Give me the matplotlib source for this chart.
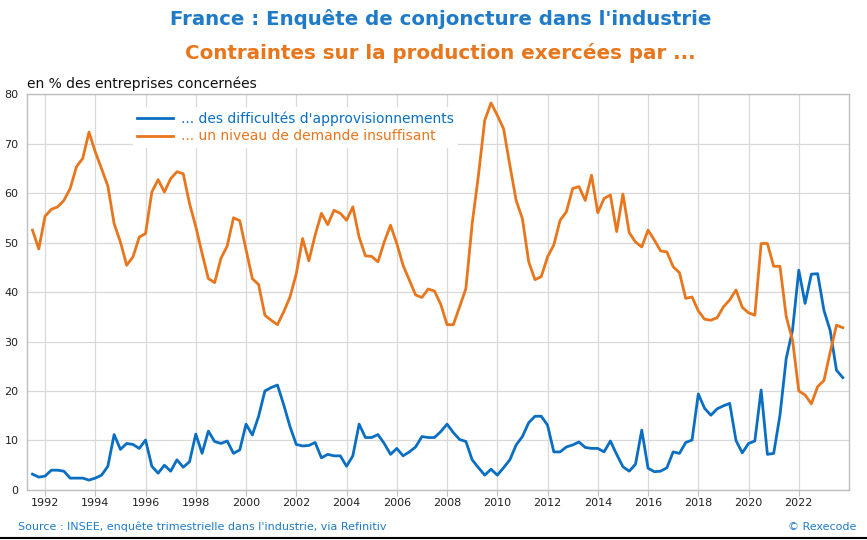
import numpy as np
import matplotlib
matplotlib.use("Agg")
import matplotlib.pyplot as plt
from matplotlib.lines import Line2D

# quarterly survey, 1991 Q3 -> 2023 Q4
quarters = 1991.5 + 0.25 * np.arange(130)

# ... des difficultés d'approvisionnements
supply = [
    3.2, 2.6,
    2.8, 4.0, 4.0, 3.8,
    2.4, 2.4, 2.4, 2.0,
    2.4, 3.0, 4.8, 11.2,
    8.2, 9.4, 9.2, 8.4,
    10.1, 4.8, 3.4, 5.0,
    3.8, 6.1, 4.6, 5.7,
    11.3, 7.4, 11.9, 9.8,
    9.4, 9.9, 7.4, 8.1,
    13.3, 11.1, 14.9, 20.0,
    20.7, 21.2, 17.2, 12.8,
    9.2, 8.9, 9.0, 9.6,
    6.5, 7.2, 6.9, 6.9,
    4.8, 6.9, 13.3, 10.6,
    10.6, 11.2, 9.4, 7.2,
    8.4, 6.9, 7.7, 8.7,
    10.8, 10.6, 10.6, 11.8,
    13.3, 11.6, 10.2, 9.8,
    6.1, 4.5, 3.0, 4.2,
    3.0, 4.5, 6.1, 9.1,
    10.8, 13.6, 14.9, 14.9,
    13.1, 7.7, 7.7, 8.7,
    9.1, 9.7, 8.6, 8.4,
    8.4, 7.7, 9.9, 7.2,
    4.7, 3.8, 5.2, 12.1,
    4.4, 3.7, 3.8, 4.5,
    7.7, 7.4, 9.6, 10.1,
    19.4, 16.5, 15.1, 16.4,
    17.0, 17.5, 10.0, 7.5,
    9.4, 9.9, 20.2, 7.2,
    7.4, 15.1, 26.6, 32.3,
    44.4, 37.7, 43.6, 43.7,
    36.3, 32.2, 24.2, 22.7,
]

# ... un niveau de demande insuffisant
demand = [
    52.5, 48.7,
    55.3, 56.7, 57.2, 58.5,
    60.9, 65.3, 67.0, 72.3,
    68.3, 64.9, 61.4, 53.8,
    50.1, 45.4, 47.1, 51.1,
    51.8, 60.2, 62.7, 60.2,
    62.9, 64.3, 63.9, 57.9,
    53.2, 47.8, 42.7, 41.9,
    46.8, 49.3, 55.0, 54.4,
    48.5, 42.7, 41.5, 35.3,
    34.3, 33.4, 36.0, 39.0,
    43.7, 50.8, 46.3, 51.5,
    55.9, 53.6, 56.5, 55.9,
    54.5, 57.2, 51.1, 47.3,
    47.2, 46.1, 50.1, 53.5,
    49.8, 45.4, 42.4, 39.4,
    38.9, 40.6, 40.2, 37.5,
    33.4, 33.4, 37.0, 40.7,
    53.8, 63.6, 74.7, 78.2,
    75.7, 73.0, 65.6, 58.5,
    54.8, 46.1, 42.5, 43.1,
    47.1, 49.5, 54.5, 56.2,
    60.9, 61.3, 58.5, 63.6,
    56.0, 58.9, 59.6, 52.2,
    59.8, 52.0, 50.1, 49.1,
    52.5, 50.5, 48.3, 48.1,
    45.1, 43.9, 38.7, 39.0,
    36.2, 34.5, 34.3, 34.8,
    37.0, 38.4, 40.4, 36.9,
    35.8, 35.3, 49.8, 49.8,
    45.2, 45.2, 35.0, 30.3,
    20.0, 19.2, 17.4, 20.9,
    22.1, 27.9, 33.3, 32.8,
]

labels = ["... des difficultés d'approvisionnements",
          "... un niveau de demande insuffisant"]
year_ticks = list(range(1992, 2024, 2))
y_ticks = [0, 10, 20, 30, 40, 50, 60, 70, 80]

BLUE = "#0a6fc2"
ORANGE = "#e8761c"

fig = plt.figure(figsize=(8.67, 5.4), dpi=100)
ax = fig.add_axes([0.0308, 0.0926, 0.9485, 0.7333])

ax.plot(quarters, supply, color=BLUE, lw=2.0, label=labels[0], zorder=3)
ax.plot(quarters, demand, color=ORANGE, lw=2.0, label=labels[1], zorder=3)

ax.set_xlim(1991.27, 2024.0)
ax.set_ylim(0, 80)
ax.set_xticks(year_ticks)
ax.set_yticks(y_ticks)
ax.grid(True, color="#d9d9d9", lw=0.9)
ax.set_axisbelow(True)
for s in ax.spines.values():
    s.set_color("#bfbfbf")
    s.set_linewidth(1.0)
ax.tick_params(axis="x", colors="#bfbfbf", length=4, labelsize=8, labelcolor="#222222", pad=2)
ax.tick_params(axis="y", length=0, labelsize=8, labelcolor="#222222", pad=6)

leg = ax.legend(loc="upper left", bbox_to_anchor=(0.1205, 0.984), frameon=True,
                fancybox=False, edgecolor="none", facecolor="white", framealpha=1,
                fontsize=10, handlelength=2.6, handletextpad=0.6,
                labelspacing=0.25, borderpad=0.3)
leg.set_zorder(4)
for txt, col in zip(leg.get_texts(), [BLUE, ORANGE]):
    txt.set_color(col)

fig.text(0.508, 0.965, "France : Enquête de conjoncture dans l'industrie",
         ha="center", va="center", fontsize=14.2, fontweight="bold", color="#1f7bc8")
fig.text(0.508, 0.902, "Contraintes sur la production exercées par ...",
         ha="center", va="center", fontsize=14.3, fontweight="bold", color=ORANGE)
fig.text(0.031, 0.845, "en % des entreprises concernées", ha="left", va="center",
         fontsize=10, color="#111111")
fig.text(0.021, 0.025, "Source : INSEE, enquête trimestrielle dans l'industrie, via Refinitiv",
         ha="left", va="center", fontsize=8, color="#1f7bc8")
fig.text(0.988, 0.025, "© Rexecode", ha="right", va="center", fontsize=8, color="#1f7bc8")
fig.add_artist(Line2D([0, 1], [0.003, 0.003], color="black", lw=1.5, transform=fig.transFigure))

fig.savefig("out.png", dpi=100)
